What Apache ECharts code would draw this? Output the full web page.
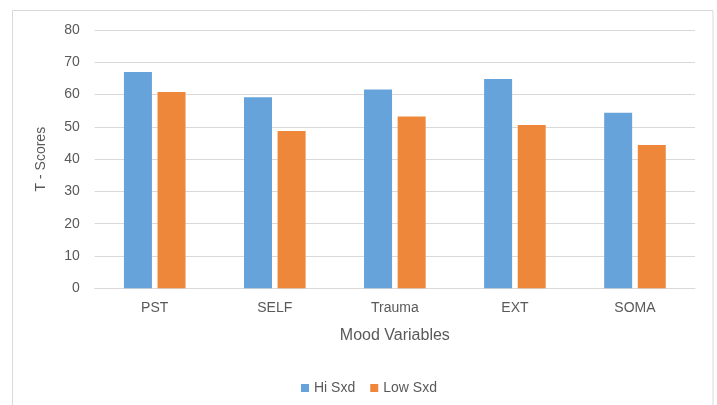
<!DOCTYPE html>
<html>
<head>
<meta charset="utf-8">
<script src="https://cdn.jsdelivr.net/npm/echarts@6/dist/echarts.min.js"></script>
<style>html,body{margin:0;padding:0;background:#fff}#c{width:717px;height:405px}</style>
</head>
<body>
<div id="c"></div>
<script>
var categories = ['PST', 'SELF', 'Trauma', 'EXT', 'SOMA'];
var hiSxd = [67.0, 59.2, 61.6, 64.8, 54.4];
var lowSxd = [60.8, 48.7, 53.2, 50.6, 44.4];
var seriesNames = ['Hi Sxd', 'Low Sxd'];
var yTicks = {min: 0, max: 80, interval: 10};

var chart = echarts.init(document.getElementById('c'));
var font = 'Liberation Sans, Arial, sans-serif';
chart.setOption({
  animation: false,
  backgroundColor: '#fff',
  graphic: [{
    type: 'rect', silent: true,
    shape: {x: 12.5, y: 10.5, width: 700.5, height: 400},
    style: {fill: 'none', stroke: '#D9D9D9', lineWidth: 1}
  }],
  grid: {left: 94.7, right: 22, top: 30, bottom: 116.7},
  legend: {
    data: seriesNames,
    left: 296, top: 376,
    itemWidth: 8, itemHeight: 8, itemGap: 15,
    icon: 'rect',
    textStyle: {color: '#595959', fontSize: 14, fontFamily: font}
  },
  xAxis: {
    type: 'category',
    data: categories,
    name: 'Mood Variables',
    nameLocation: 'middle',
    nameGap: 39,
    nameTextStyle: {color: '#595959', fontSize: 16, fontFamily: font},
    axisLine: {lineStyle: {color: '#D9D9D9', width: 1}},
    axisTick: {show: false},
    axisLabel: {color: '#595959', fontSize: 14, fontFamily: font, margin: 13}
  },
  yAxis: {
    type: 'value',
    min: yTicks.min, max: yTicks.max, interval: yTicks.interval,
    name: 'T - Scores',
    nameLocation: 'middle',
    nameGap: 47,
    nameTextStyle: {color: '#595959', fontSize: 14, fontFamily: font},
    axisLine: {show: false},
    axisTick: {show: false},
    axisLabel: {color: '#595959', fontSize: 14, fontFamily: font, margin: 15},
    splitLine: {lineStyle: {color: '#D9D9D9', width: 1}}
  },
  series: [
    {name: seriesNames[0], type: 'bar', data: hiSxd, barWidth: 28, barGap: '20%',
     itemStyle: {color: '#65A3DA'}},
    {name: seriesNames[1], type: 'bar', data: lowSxd, barWidth: 28, barGap: '20%',
     itemStyle: {color: '#EF873A'}}
  ]
});
</script>
</body>
</html>
